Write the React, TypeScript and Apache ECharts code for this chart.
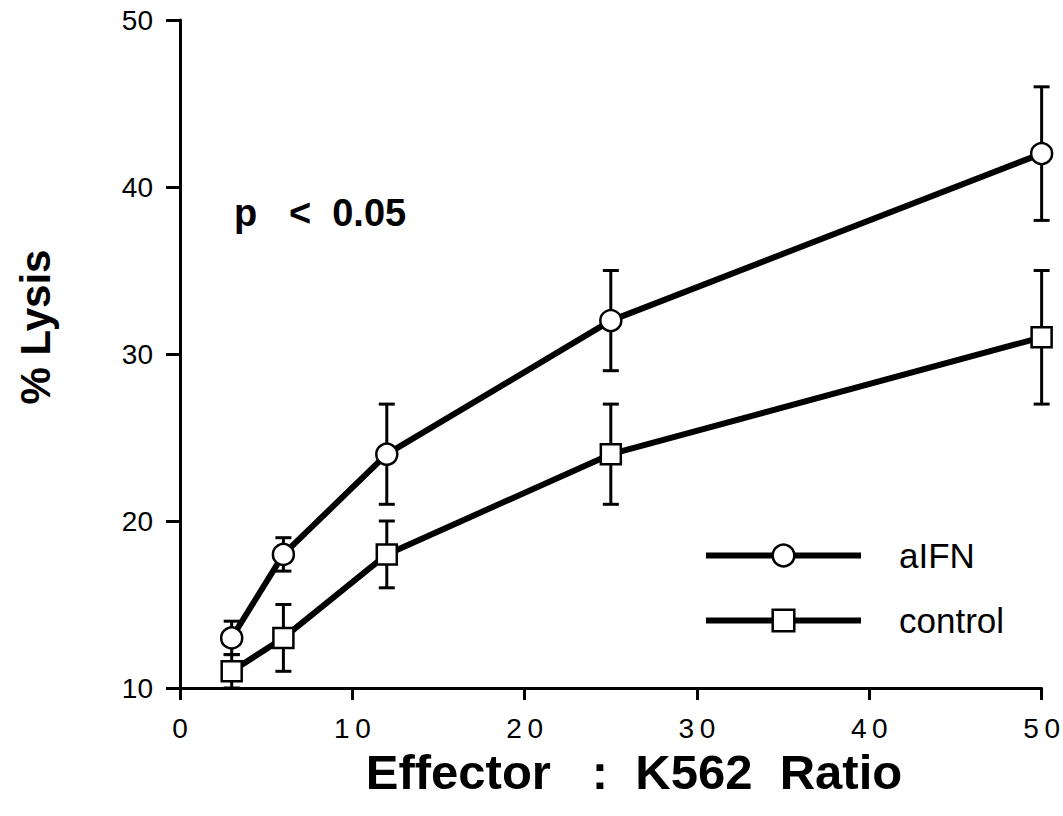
import React, { useEffect, useRef } from "react";
import * as echarts from "echarts";

const ratios = [3, 6, 12, 25, 50];
const aifnMean = [13, 18, 24, 32, 42];
const aifnLow = [12, 17, 21, 29, 38];
const aifnHigh = [14, 19, 27, 35, 46];
const controlMean = [11, 13, 18, 24, 31];
const controlLow = [10, 11, 16, 21, 27];
const controlHigh = [12, 15, 20, 27, 35];
const seriesNames = ["aIFN", "control"];
const xTicks = [0, 10, 20, 30, 40, 50];
const yTicks = [10, 20, 30, 40, 50];

const errorRender = (params: any, api: any) => {
  const x = api.value(0);
  const lo = api.coord([x, api.value(1)]);
  const hi = api.coord([x, api.value(2)]);
  const cap = 8;
  const style = { stroke: "#000", lineWidth: 3 };
  return {
    type: "group",
    children: [
      { type: "line", shape: { x1: lo[0], y1: lo[1], x2: hi[0], y2: hi[1] }, style },
      { type: "line", shape: { x1: lo[0] - cap, y1: lo[1], x2: lo[0] + cap, y2: lo[1] }, style },
      { type: "line", shape: { x1: hi[0] - cap, y1: hi[1], x2: hi[0] + cap, y2: hi[1] }, style },
    ],
  };
};

export default function App() {
  const ref = useRef<HTMLDivElement>(null);
  useEffect(() => {
    if (!ref.current) return;
    const chart = echarts.init(ref.current, undefined, { renderer: "svg" });
    const font = "'Liberation Sans', Helvetica, Arial, sans-serif";
    chart.setOption({
      animation: false,
      backgroundColor: "#fff",
      grid: { left: 180, right: 18, top: 20, bottom: 128 },
      xAxis: {
        type: "value",
        min: 0,
        max: 50,
        interval: 10,
        splitLine: { show: false },
        axisLine: { show: true, onZero: false, lineStyle: { color: "#000", width: 3 } },
        axisTick: { show: true, length: 12, lineStyle: { color: "#000", width: 3 } },
        axisLabel: {
          color: "#000",
          fontSize: 28,
          fontFamily: font,
          margin: 26,
          formatter: (v: number) => (xTicks.includes(v) ? String(v).split("").join("\u2009") : ""),
        },
      },
      yAxis: {
        type: "value",
        min: 10,
        max: 50,
        interval: 10,
        splitLine: { show: false },
        axisLine: { show: true, onZero: false, lineStyle: { color: "#000", width: 3 } },
        axisTick: { show: true, length: 14, lineStyle: { color: "#000", width: 3 } },
        axisLabel: {
          color: "#000",
          fontSize: 28,
          fontFamily: font,
          margin: 27,
          formatter: (v: number) => (yTicks.includes(v) ? String(v) : ""),
        },
      },
      legend: {
        show: true,
        orient: "vertical",
        left: 698,
        top: 533,
        itemWidth: 155,
        itemHeight: 27,
        itemGap: 30,
        data: seriesNames,
        lineStyle: { width: 6, color: "#000" },
        itemStyle: { color: "#fff", borderColor: "#000", borderWidth: 2.5 },
        textStyle: { color: "#000", fontSize: 35, fontFamily: font, padding: [0, 0, 0, 33] },
      },
      graphic: [
        {
          type: "text",
          x: 234,
          y: 213,
          style: {
            text: "p   <  0.05",
            fontSize: 38,
            fontWeight: "bold",
            fontFamily: font,
            fill: "#000",
            textVerticalAlign: "middle",
          },
        },
        {
          type: "text",
          x: 35,
          y: 327,
          rotation: Math.PI / 2,
          style: {
            text: "% Lysis",
            fontSize: 42,
            fontWeight: "bold",
            fontFamily: font,
            fill: "#000",
            textAlign: "center",
            textVerticalAlign: "middle",
          },
        },
        {
          type: "text",
          x: 634,
          y: 772,
          style: {
            text: "Effector   :  K562  Ratio",
            fontSize: 49,
            fontWeight: "bold",
            fontFamily: font,
            fill: "#000",
            textAlign: "center",
            textVerticalAlign: "middle",
          },
        },
      ],
      series: [
        {
          type: "custom",
          name: "aIFN-err",
          renderItem: errorRender,
          data: ratios.map((x, i) => [x, aifnLow[i], aifnHigh[i]]),
          z: 1,
          silent: true,
        },
        {
          type: "custom",
          name: "control-err",
          renderItem: errorRender,
          data: ratios.map((x, i) => [x, controlLow[i], controlHigh[i]]),
          z: 1,
          silent: true,
        },
        {
          type: "line",
          name: seriesNames[0],
          data: ratios.map((x, i) => [x, aifnMean[i]]),
          symbol: "circle",
          symbolSize: 21,
          showAllSymbol: true,
          lineStyle: { color: "#000", width: 6 },
          itemStyle: { color: "#fff", borderColor: "#000", borderWidth: 2.5 },
          z: 3,
        },
        {
          type: "line",
          name: seriesNames[1],
          data: ratios.map((x, i) => [x, controlMean[i]]),
          symbol: "rect",
          symbolSize: 20,
          showAllSymbol: true,
          lineStyle: { color: "#000", width: 6 },
          itemStyle: { color: "#fff", borderColor: "#000", borderWidth: 2.5 },
          z: 3,
        },
      ],
    });
    return () => chart.dispose();
  }, []);
  return <div ref={ref} style={{ width: 1063, height: 816, position: "absolute", left: 0, top: 0 }} />;
}
